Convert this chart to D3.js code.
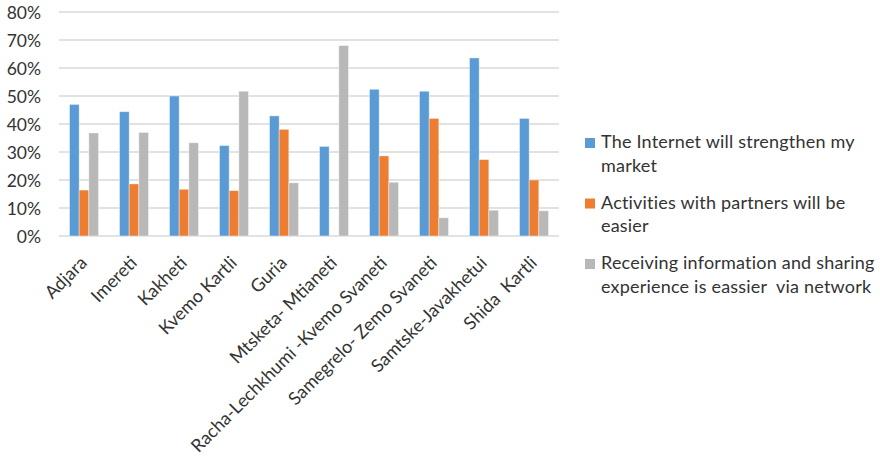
<!DOCTYPE html>
<html><head><meta charset="utf-8">
<script src="https://cdn.jsdelivr.net/npm/d3@7"></script>
<style>body{margin:0;background:#fff;} svg{display:block;}</style>
</head><body>
<svg id="c" width="880" height="458"></svg>
<script>
const categories = ["Adjara","Imereti","Kakheti","Kvemo Kartli","Guria","Mtsketa- Mtianeti","Racha-Lechkhumi -Kvemo Svaneti","Samegrelo- Zemo Svaneti","Samtske-Javakhetui","Shida  Kartli"];
const seriesNames = ["The Internet will strengthen my market","Activities with partners will be easier","Receiving information and sharing experience is eassier  via network"];
const legendLines = [["The Internet will strengthen my","market"],["Activities with partners will be","easier"],["Receiving information and sharing","experience is eassier  via network"]];
const internet = [47.0,44.4,50.0,32.3,42.9,32.0,52.4,51.7,63.6,42.0];
const partners = [16.4,18.6,16.7,16.2,38.1,0,28.6,42.0,27.3,20.0];
const sharing  = [36.8,37.0,33.3,51.7,19.0,68.0,19.2,6.5,9.2,9.0];
const yTicks = [0,10,20,30,40,50,60,70,80];
const colors = ["#5B9BD5","#ED7D31","#B8B8B8"];
const series = [internet, partners, sharing];

(function(){
const FONT = "Lato, 'Open Sans', sans-serif";
const TXT = "#333333";
const svg = d3.select("#c");
const pL = 59, pR = 559, pT = 12, pB = 236;

const x = d3.scaleBand().domain(categories).range([pL,pR]).paddingInner(0.42).paddingOuter(0.21);
const xs = d3.scaleBand().domain(d3.range(3)).range([0,x.bandwidth()]);
const y = d3.scaleLinear().domain([0,80]).range([pB,pT]);

svg.append("g").selectAll("line").data(yTicks).join("line")
  .attr("x1",pL).attr("x2",pR)
  .attr("y1",d=>y(d)).attr("y2",d=>y(d))
  .attr("stroke","#D9D9D9").attr("stroke-width",1.3);

const yAxis = d3.axisLeft(y).tickValues(yTicks).tickFormat(d=>d+"%").tickSize(0).tickPadding(0);
const ya = svg.append("g").attr("transform","translate(41,0)").call(yAxis);
ya.select(".domain").remove();
ya.selectAll("text").attr("font-family",FONT).attr("font-size",17.5).attr("fill",TXT).attr("dy","0.35em");

series.forEach((vals,si)=>{
  svg.append("g").selectAll("rect").data(vals).join("rect")
    .attr("x",(d,i)=>x(categories[i])+xs(si))
    .attr("width",xs.bandwidth())
    .attr("y",d=>y(d))
    .attr("height",d=>pB-y(d))
    .attr("fill",colors[si])
    .attr("stroke","#ffffff").attr("stroke-opacity",0.5).attr("stroke-width",0.8);
});

const xl = svg.append("g");
categories.forEach(c=>{
  const cx = x(c)+x.bandwidth()/2;
  xl.append("text")
    .attr("transform",`translate(${cx+4},${pB+28}) rotate(-45)`)
    .attr("text-anchor","end")
    .attr("font-family",FONT).attr("font-size",18).attr("fill",TXT)
    .style("white-space","pre")
    .text(c);
});

const lg = svg.append("g");
legendLines.forEach((lines,i)=>{
  const by = 148 + i*60.5;
  lg.append("rect").attr("x",585).attr("y",by-10).attr("width",10).attr("height",10).attr("fill",colors[i]);
  lines.forEach((t,j)=>{
    lg.append("text").attr("x",601).attr("y",by+j*23.5)
      .attr("font-family",FONT).attr("font-size",18).attr("letter-spacing",0.2).attr("fill",TXT)
      .style("white-space","pre").text(t);
  });
});
})();
</script>
</body></html>
